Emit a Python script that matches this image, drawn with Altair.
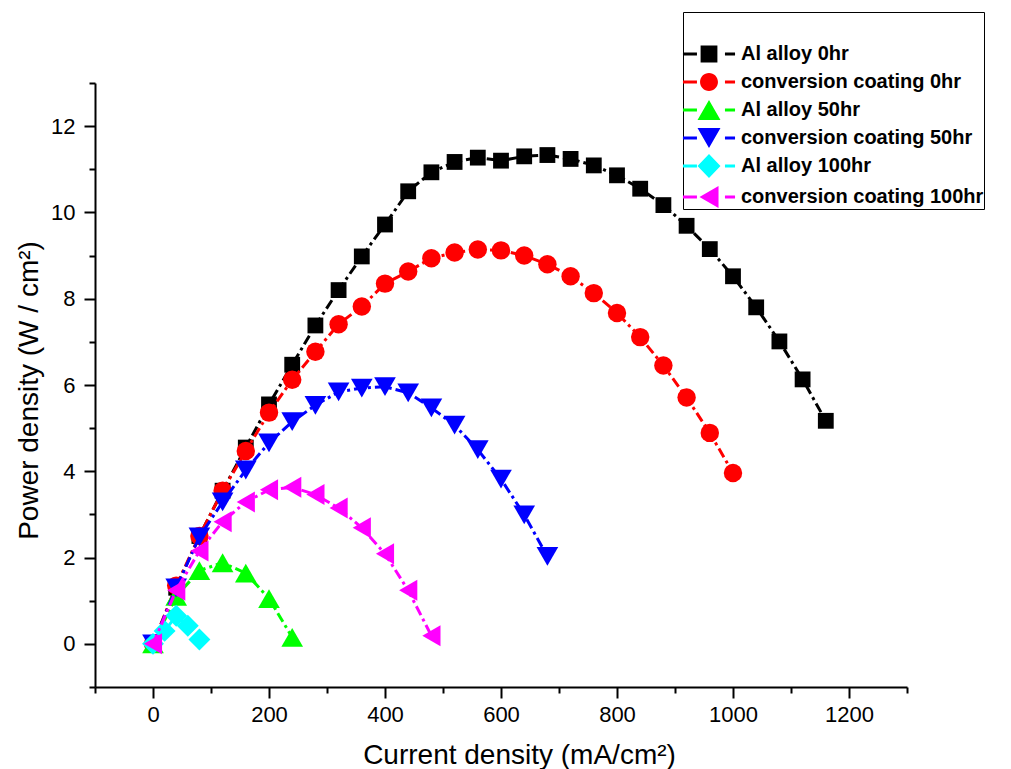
import altair as alt
import pandas as pd

series_names = ["Al alloy 0hr", "conversion coating 0hr", "Al alloy 50hr",
                "conversion coating 50hr", "Al alloy 100hr", "conversion coating 100hr"]
colors = ["#000000", "#FF0000", "#00FF00", "#0000FF", "#00FFFF", "#FF00FF"]
shapes = ["square", "circle", "triangle-up", "triangle-down", "diamond", "triangle-left"]
marker_sizes = [250, 340, 470, 470, 480, 440]

x_al0 = [0, 40, 80, 120, 160, 200, 240, 280, 320, 360, 400, 440, 480, 520, 560,
         600, 640, 680, 720, 760, 800, 840, 880, 920, 960, 1000, 1040, 1080, 1120, 1160]
y_al0 = [0, 1.3, 2.5, 3.55, 4.55, 5.55, 6.47, 7.38, 8.2, 8.98, 9.72, 10.49, 10.93, 11.17, 11.27,
         11.2, 11.3, 11.33, 11.24, 11.09, 10.86, 10.55, 10.17, 9.69, 9.15, 8.52, 7.8, 7.01, 6.13, 5.17]

x_cc0 = [0, 40, 80, 120, 160, 200, 240, 280, 320, 360, 400, 440, 480, 520, 560,
         600, 640, 680, 720, 760, 800, 840, 880, 920, 960, 1000]
y_cc0 = [0, 1.35, 2.5, 3.55, 4.47, 5.36, 6.12, 6.77, 7.41, 7.82, 8.35, 8.63, 8.94, 9.07, 9.14,
         9.12, 9.0, 8.8, 8.52, 8.13, 7.67, 7.11, 6.45, 5.71, 4.89, 3.96]

x_al50 = [0, 40, 80, 120, 160, 200, 240]
y_al50 = [0, 1.1, 1.7, 1.88, 1.64, 1.05, 0.15]

x_cc50 = [0, 40, 80, 120, 160, 200, 240, 280, 320, 360, 400, 440, 480, 520, 560, 600, 640, 680]
y_cc50 = [0, 1.3, 2.48, 3.29, 4.03, 4.66, 5.15, 5.53, 5.84, 5.93, 5.96, 5.82, 5.47, 5.07, 4.5,
          3.82, 2.99, 2.03]

x_al100 = [0, 20, 40, 60, 80]
y_al100 = [0, 0.3, 0.65, 0.42, 0.1]

x_cc100 = [0, 40, 80, 120, 160, 200, 240, 280, 320, 360, 400, 440, 480]
y_cc100 = [0, 1.24, 2.15, 2.83, 3.29, 3.57, 3.63, 3.46, 3.15, 2.69, 2.09, 1.24, 0.19]

x_lists = [x_al0, x_cc0, x_al50, x_cc50, x_al100, x_cc100]
y_lists = [y_al0, y_cc0, y_al50, y_cc50, y_al100, y_cc100]

x_ticks = [-100, 0, 100, 200, 300, 400, 500, 600, 700, 800, 900, 1000, 1100, 1200, 1300]
y_ticks = [-1, 0, 1, 2, 3, 4, 5, 6, 7, 8, 9, 10, 11, 12, 13]

# legend symbols: marker plus dash segments (unit = half of sqrt(symbolSize))
dash_l = "M-1.86,-0.11 H-0.86 V0.11 H-1.86 Z "
dash_r = "M1.14,-0.11 H1.86 V0.11 H1.14 Z "
legend_paths = [
    dash_l + dash_r + "M-0.6,-0.6 H0.6 V0.6 H-0.6 Z",
    dash_l + dash_r + "M-0.64,0 A0.64,0.64 0 1,0 0.64,0 A0.64,0.64 0 1,0 -0.64,0 Z",
    dash_l + dash_r + "M0,-0.71 L0.82,0.71 L-0.82,0.71 Z",
    dash_l + dash_r + "M0,0.71 L0.82,-0.71 L-0.82,-0.71 Z",
    dash_l + dash_r + "M-0.82,0 L0,-0.86 L0.82,0 L0,0.86 Z",
    dash_l + dash_r + "M-0.68,0 L0.68,-0.79 L0.68,0.79 Z",
]

rows = []
for name, xs, ys in zip(series_names, x_lists, y_lists):
    for xv, yv in zip(xs, ys):
        rows.append({"series": name, "current": xv, "power": yv})
df = pd.DataFrame(rows)

FONT = "Liberation Sans"

x_enc = alt.X(
    "current:Q",
    scale=alt.Scale(domain=[-100, 1300], nice=False, zero=False),
    axis=alt.Axis(
        values=x_ticks, format="d",
        labelExpr="datum.value % 200 === 0 ? datum.label : ''",
        tickSize={"condition": {"test": "datum.value % 200 === 0", "value": 11}, "value": 6},
        title="Current density (mA/cm²)",
        titleX=424, titleY=76, titleAlign="center", titleBaseline="alphabetic",
        labelPadding=6, labelFont=FONT, labelFontSize=22, labelColor="#000000",
    ),
)
y_enc = alt.Y(
    "power:Q",
    scale=alt.Scale(domain=[-1, 13], nice=False, zero=False),
    axis=alt.Axis(
        values=y_ticks, format="d",
        labelExpr="datum.value % 2 === 0 ? datum.label : ''",
        tickSize={"condition": {"test": "datum.value % 2 === 0", "value": 11}, "value": 6},
        title="Power density (W / cm²)",
        titleX=-58, titleY=307, titleAngle=270, titleAlign="center", titleBaseline="alphabetic",
        labelPadding=9, labelFont=FONT, labelFontSize=22, labelColor="#000000",
    ),
)

layers = []
for name, col, shp, sz in zip(series_names, colors, shapes, marker_sizes):
    base = alt.Chart(df).transform_filter(alt.datum.series == name)
    layers.append(
        base.mark_line(color=col, strokeWidth=3, strokeDash=[10, 4, 3, 4]).encode(
            x=x_enc, y=y_enc, order="current:Q"
        )
    )
    layers.append(
        base.mark_point(shape=shp, filled=True, color=col, size=sz, opacity=1, strokeWidth=0).encode(
            x=x_enc, y=y_enc
        )
    )

leg = alt.Legend(
    title=" ", titleFont=FONT, titleFontSize=12, titlePadding=16,
    orient="none", legendX=588, legendY=-71,
    symbolSize=784, symbolStrokeWidth=0, symbolOpacity=1, symbolOffset=12,
    labelFont=FONT, labelFontSize=20, labelFontWeight="bold", labelColor="#000000",
    labelOffset=18, labelLimit=400, rowPadding=4, padding=0,
    strokeColor="#000000", fillColor="#FFFFFF",
)

legend_layer = alt.Chart(df).transform_filter("false").mark_point(
    filled=True, opacity=1, size=784, strokeWidth=0
).encode(
    x=x_enc, y=y_enc,
    color=alt.Color("series:N", scale=alt.Scale(domain=series_names, range=colors), legend=leg),
    shape=alt.Shape("series:N", scale=alt.Scale(domain=series_names, range=legend_paths), legend=leg),
)
layers.append(legend_layer)

chart = alt.layer(*layers).properties(
    width=812, height=604,
    padding={"left": 95, "top": 83, "right": 104, "bottom": 82},
    autosize=alt.AutoSizeParams(type="none"),
    background="#FFFFFF",
).configure_view(stroke=None).configure_axis(
    grid=False,
    domainColor="#000000", domainWidth=2,
    tickColor="#000000", tickWidth=2,
    labelFont=FONT, labelFontSize=22, labelColor="#000000",
    titleFont=FONT, titleFontSize=28, titleFontWeight="normal", titleColor="#000000",
)

chart.save("out.html", embed_options={"renderer": "svg", "actions": False})
